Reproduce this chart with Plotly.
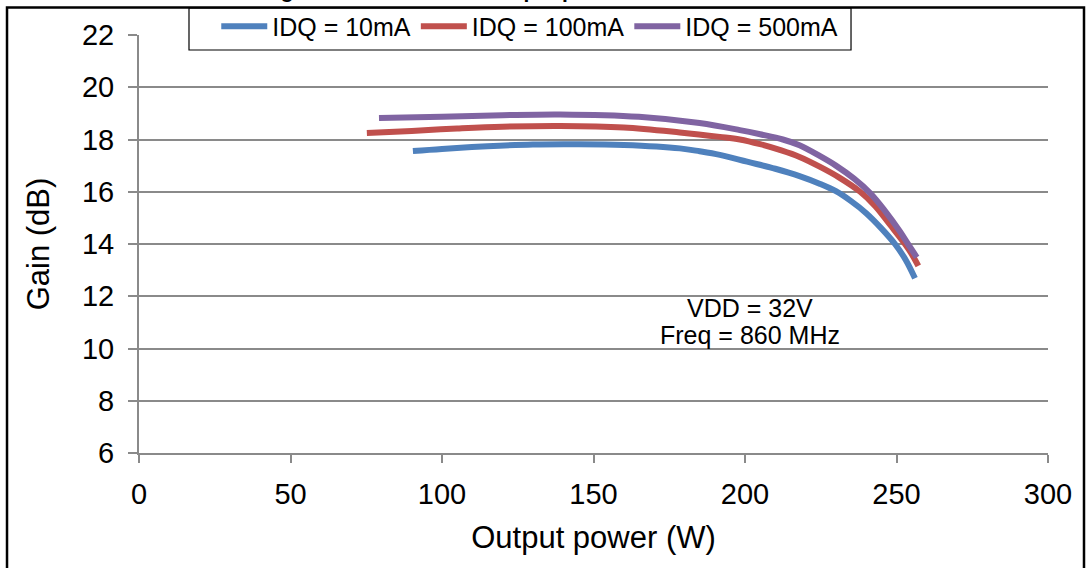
import plotly.graph_objects as go

# ---- data ----
pout_10 = [90.4, 100, 115, 130, 145, 160, 178.5, 185, 191.7, 200.7, 210, 218, 224.8, 230, 235, 240, 245, 249.5, 253, 256.1]
gain_10 = [17.56, 17.64, 17.74, 17.81, 17.82, 17.79, 17.66, 17.55, 17.41, 17.15, 16.88, 16.6, 16.3, 16.02, 15.64, 15.18, 14.6, 14.0, 13.4, 12.69]

pout_100 = [75.2, 90, 105, 120, 139, 160, 178.5, 191.7, 198.3, 205, 212, 218, 224.8, 231, 238, 243, 248, 252.8, 255, 257.2]
gain_100 = [18.25, 18.33, 18.42, 18.49, 18.52, 18.46, 18.27, 18.1, 18.0, 17.82, 17.58, 17.33, 16.95, 16.55, 16.0, 15.45, 14.72, 14.0, 13.62, 13.16]

pout_500 = [79.2, 100, 120, 139, 165, 185, 198.3, 205, 212.5, 218, 224.8, 230, 236, 241.3, 246, 251.2, 253.8, 256.7]
gain_500 = [18.82, 18.87, 18.93, 18.96, 18.87, 18.63, 18.36, 18.2, 18.0, 17.78, 17.36, 17.0, 16.5, 15.95, 15.3, 14.47, 14.0, 13.49]

series_names = ["IDQ = 10mA", "IDQ = 100mA", "IDQ = 500mA"]
series_colors = ["#4F81BD", "#C0504D", "#8064A2"]

x_ticks = [0, 50, 100, 150, 200, 250, 300]
y_ticks = [6, 8, 10, 12, 14, 16, 18, 20, 22]

FONT = "Liberation Sans, Arial, sans-serif"
GRID = "#8a8a8a"

fig = go.Figure()
for xs, ys, name, col in zip([pout_10, pout_100, pout_500],
                             [gain_10, gain_100, gain_500],
                             series_names, series_colors):
    fig.add_trace(go.Scatter(x=xs, y=ys, mode="lines", name=name,
                             line=dict(color=col, width=6, shape="spline", smoothing=1.0)))

fig.update_layout(
    width=1088, height=568,
    margin=dict(l=139, r=40, t=35, b=115, autoexpand=False),
    paper_bgcolor="white", plot_bgcolor="white",
    font=dict(family=FONT, color="black"),
    showlegend=True,
    legend=dict(orientation="h", x=0.085, xanchor="left", y=1.0756, yanchor="top",
                bgcolor="rgba(0,0,0,0)", borderwidth=0,
                font=dict(size=25, family=FONT, color="black"),
                itemwidth=46, tracegroupgap=0),
    xaxis=dict(range=[0, 300], tickvals=x_ticks, showgrid=False, zeroline=False,
               showline=True, linecolor=GRID, linewidth=2,
               ticks="outside", ticklen=8, tickwidth=2, tickcolor=GRID,
               tickfont=dict(size=29, family=FONT, color="black"),
               ticklabelstandoff=6,
               title=dict(text="Output power (W)", font=dict(size=31, family=FONT, color="black"),
                          standoff=18)),
    yaxis=dict(range=[6, 22], tickvals=y_ticks, showgrid=True, gridcolor=GRID, gridwidth=2,
               zeroline=False, showline=True, linecolor=GRID, linewidth=2,
               ticks="outside", ticklen=9, tickwidth=2, tickcolor=GRID,
               tickfont=dict(size=29, family=FONT, color="black"),
               ticklabelstandoff=8,
               title=dict(text="Gain (dB)", font=dict(size=31, family=FONT, color="black"),
                          standoff=23)),
)

# legend frame (white box covering grid behind legend)
fig.add_shape(type="rect", xref="paper", yref="paper",
              x0=0.055, x1=0.7833, y0=0.9641, y1=1.0646,
              line=dict(color="black", width=1.2), fillcolor="white", layer="above")

# outer chart-area border
fig.add_shape(type="rect", xref="paper", yref="paper",
              x0=-0.1452, x1=1.0396, y0=-0.36, y1=1.0658,
              line=dict(color="black", width=2.5), fillcolor="rgba(0,0,0,0)", layer="above")

# cropped title (only descenders visible above the frame)
fig.add_annotation(text="<b>Power gain as a function of output power</b>",
                   xref="paper", yref="paper", x=(210 - 139) / 909, y=(453 - 4) / 418,
                   xanchor="left", yanchor="bottom", showarrow=False,
                   font=dict(size=21, family=FONT, color="black"))

fig.add_annotation(text="VDD = 32V", x=201.7, y=11.55, xref="x", yref="y",
                   showarrow=False, font=dict(size=25, family=FONT, color="black"))
fig.add_annotation(text="Freq = 860 MHz", x=201.7, y=10.5, xref="x", yref="y",
                   showarrow=False, font=dict(size=25, family=FONT, color="black"))

fig.write_html("out.html", config={"displayModeBar": False},
               post_script="document.body.style.margin='0';")
